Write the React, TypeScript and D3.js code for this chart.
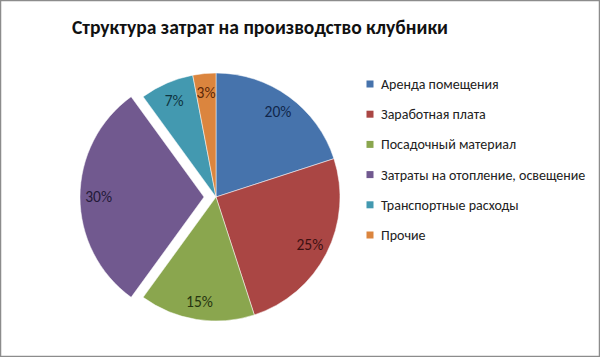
import React from "react";
import * as d3 from "d3";

const categories = [
  "Аренда помещения",
  "Заработная плата",
  "Посадочный материал",
  "Затраты на отопление, освещение",
  "Транспортные расходы",
  "Прочие",
];
const values = [20, 25, 15, 30, 7, 3];
const colors = ["#4673AC", "#AA4644", "#8AA64E", "#71598F", "#4399B0", "#DB853E"];
const labelColors = ["#10264a", "#3d1011", "#263510", "#231a38", "#0f3541", "#5b2808"];
const exploded = [false, false, false, true, false, false];
const title = "Структура затрат на производство клубники";

export default function App() {
  const W = 600, H = 357;
  const cx = 216, cy = 197, r = 124, explode = 12;
  const pie = d3.pie<number>().sort(null).value((d) => d)(values);
  const arc = d3.arc<d3.PieArcDatum<number>>().innerRadius(0).outerRadius(r);
  const labelArc = d3.arc<d3.PieArcDatum<number>>().innerRadius(r * 0.85).outerRadius(r * 0.85);
  const legendY = d3.scalePoint<string>().domain(categories).range([84, 235]);
  const font = "Carlito, 'Liberation Sans', Arial, sans-serif";
  return (
    <svg width={W} height={H} style={{ position: "absolute", left: 0, top: 0 }}>
      <rect x={0.5} y={0.5} width={W - 1} height={H - 1} fill="#fff" stroke="#8c8c8c" strokeWidth={1.5} />
      <text x={260} y={34} textAnchor="middle" fontFamily={font} fontWeight="bold" fontSize={19.6} fill="#111">
        {title}
      </text>
      <g transform={`translate(${cx},${cy})`}>
        {pie.map((p, i) => {
          const mid = (p.startAngle + p.endAngle) / 2;
          const dx = exploded[i] ? Math.sin(mid) * explode : 0;
          const dy = exploded[i] ? -Math.cos(mid) * explode : 0;
          const [lx, ly] = labelArc.centroid(p);
          return (
            <g key={i} transform={`translate(${dx},${dy})`}>
              <path d={arc(p) || ""} fill={colors[i]} stroke="#fff" strokeWidth={0.5} />
              <text x={lx} y={ly} dy="0.35em" textAnchor="middle" fontFamily={font} fontSize={15.5} fill={labelColors[i]}>
                {values[i]}%
              </text>
            </g>
          );
        })}
      </g>
      {categories.map((c, i) => (
        <g key={c} transform={`translate(370,${legendY(c)})`}>
          <rect x={-3.5} y={-3.5} width={7} height={7} fill={colors[i]} />
          <text x={11} y={0} dy="0.35em" fontFamily={font} fontSize={14} fill="#222">
            {c}
          </text>
        </g>
      ))}
    </svg>
  );
}
